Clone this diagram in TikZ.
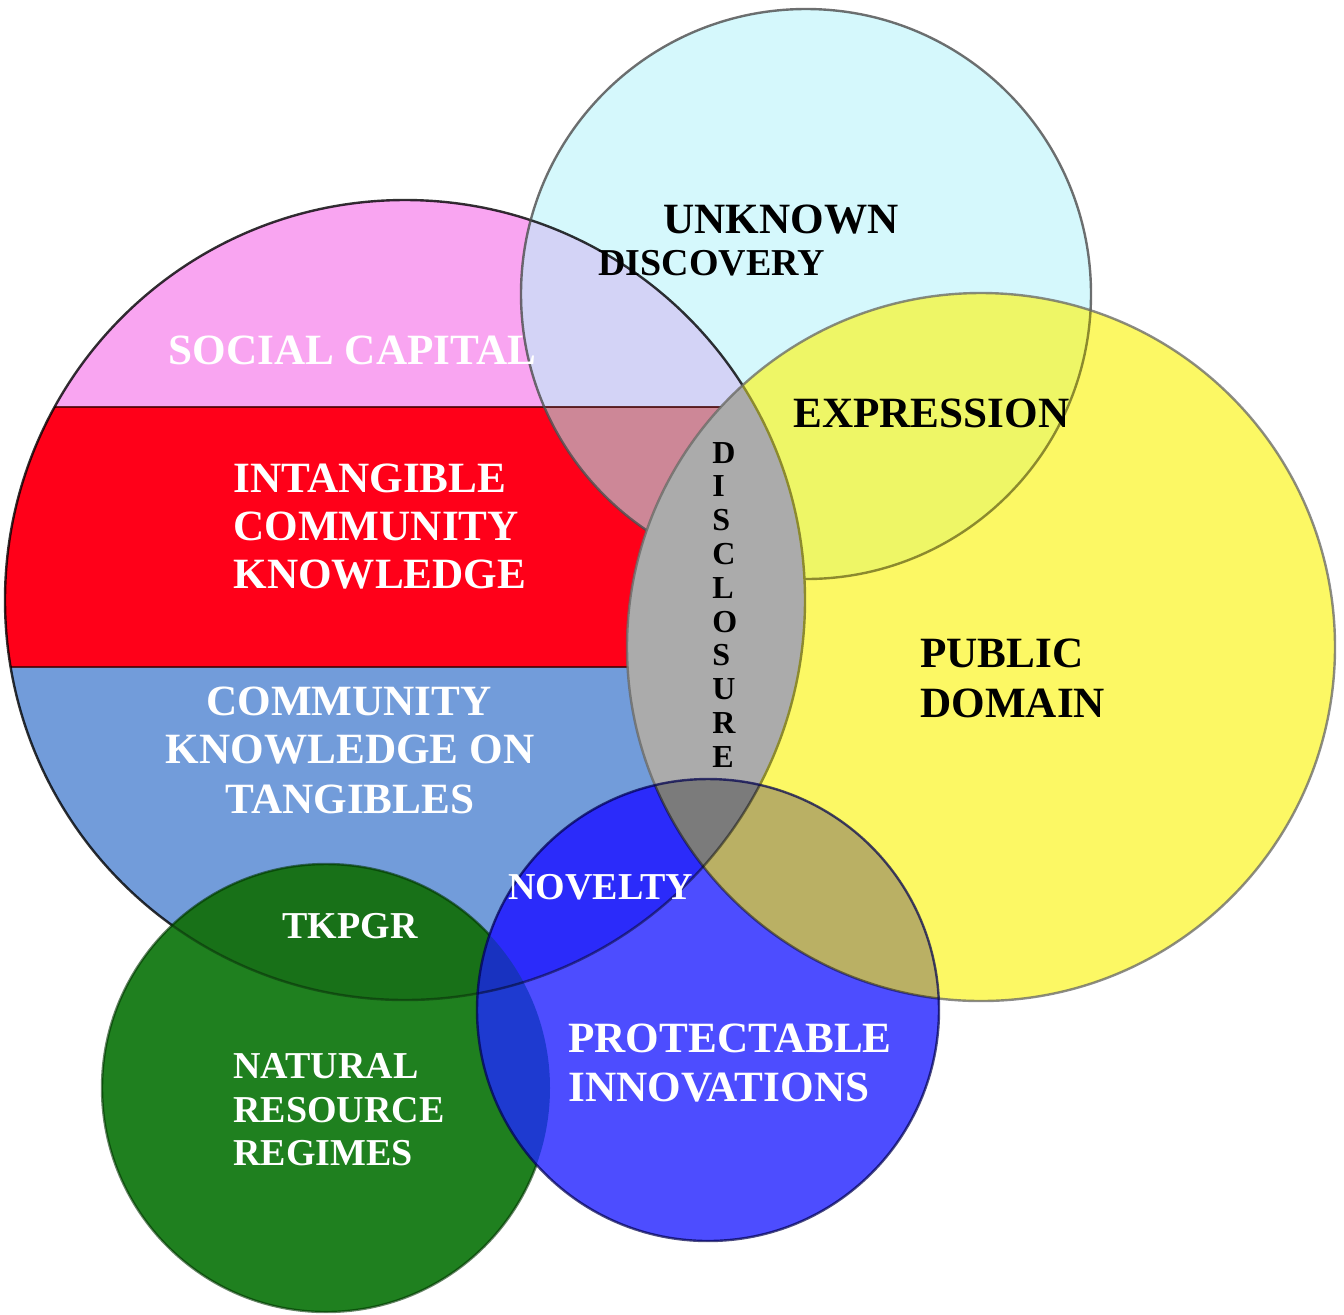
\documentclass[tikz,border=0pt]{standalone}
\usepackage{fontspec}
\setmainfont{Liberation Serif}
\definecolor{cpink}{HTML}{F9A5F1}
\definecolor{cred}{HTML}{FF0019}
\definecolor{csteel}{HTML}{729CDA}
\definecolor{clav}{HTML}{D3D3F6}
\definecolor{cmauve}{HTML}{CD8797}
\definecolor{ccyan}{HTML}{D5F8FC}
\definecolor{cyel}{HTML}{FCF864}
\definecolor{cyc}{HTML}{EEF666}
\definecolor{cgray}{HTML}{ABABAB}
\definecolor{cdgray}{HTML}{7B7B7B}
\definecolor{ckhaki}{HTML}{BAB064}
\definecolor{cblue}{HTML}{4D4DFF}
\definecolor{cbluedk}{HTML}{2B2BFA}
\definecolor{cgreen}{HTML}{1F801F}
\definecolor{cgreendk}{HTML}{187118}
\definecolor{cbg}{HTML}{1E3AD0}
\definecolor{cbgb}{HTML}{1832C0}
\definecolor{colive}{HTML}{8C8A2E}
\newcommand\lblbig{\fontsize{21.6}{25}\selectfont\bfseries}
\newcommand\lblmid{\fontsize{19}{22}\selectfont\bfseries}
\newcommand\lblsml{\fontsize{16}{18}\selectfont\bfseries}
\def\cirB{(405,600) circle[radius=400]}
\def\cirC{(806,294) circle[radius=285]}
\def\cirY{(981,647) circle[radius=354]}
\def\cirU{(708,1010) circle[radius=231]}
\def\cirG{(326,1088) circle[radius=224]}
\tikzset{
  lbl/.style={inner sep=0pt, anchor=base west},
  wt/.style={lbl, text=white},
  bk/.style={lbl, text=black},
  edge/.style={line width=1.2pt},
}
\begin{document}
\begin{tikzpicture}[x=0.5pt,y=-0.5pt]
\useasboundingbox (0,0) rectangle (1344,1314);
% big circle bands
\begin{scope}
  \clip \cirB;
  \fill[cpink] (0,0) rectangle (1344,407);
  \fill[cred] (0,407) rectangle (1344,667);
  \fill[csteel] (0,667) rectangle (1344,1314);
\end{scope}
% cyan circle
\fill[ccyan] \cirC;
\begin{scope}
  \clip \cirC; \clip \cirB;
  \fill[clav] (0,0) rectangle (1344,407);
  \fill[cmauve] (0,407) rectangle (1344,667);
\end{scope}
% band lines
\begin{scope}
  \clip \cirB;
  \draw[edge, draw=black!75!red, draw opacity=0.8] (0,407) -- (1344,407);
  \draw[edge, draw=black!75!red, draw opacity=0.8] (0,667) -- (1344,667);
\end{scope}
\draw[edge, draw=black, draw opacity=0.8] \cirB;
\draw[edge, draw=black!70, draw opacity=0.8] \cirC;
% yellow circle
\fill[cyel] \cirY;
\begin{scope}
  \clip \cirY;
  \fill[cyc] \cirC;
  \draw[edge, draw=colive] \cirC;
  \fill[cgray] \cirB;
  \draw[edge, draw=colive] \cirB;
\end{scope}
\draw[edge, draw=black!60, draw opacity=0.75] \cirY;
% green circle
\fill[cgreen] \cirG;
\begin{scope}
  \clip \cirG;
  \fill[cgreendk] \cirB;
  \draw[edge, draw=black, draw opacity=0.35] \cirB;
\end{scope}
\draw[edge, draw=black!80!green, draw opacity=0.6] \cirG;
% blue circle
\fill[cblue] \cirU;
\begin{scope}
  \clip \cirU;
  \fill[cbluedk] \cirB;
  \fill[ckhaki] \cirY;
  \begin{scope}
    \clip \cirY;
    \fill[cdgray] \cirB;
  \end{scope}
  \fill[cbg] \cirG;
  \begin{scope}
    \clip \cirG;
    \fill[cbgb] \cirB;
  \end{scope}
  \draw[edge, draw=black, draw opacity=0.45] \cirB;
  \draw[edge, draw=black, draw opacity=0.45] \cirY;
\end{scope}
\draw[edge, draw=black!70!blue, draw opacity=0.7] \cirU;
% labels
\node[bk, font=\lblbig] (unk) at (663,233) {UNKNOWN};
\node[bk, font=\lblmid] (dsc) at (598,275) {DISCOVERY};
\node[wt, font=\lblbig] (soc) at (168,364) {SOCIAL CAPITAL};
\node[bk, font=\lblbig] (expr) at (793,427) {EXPRESSION};
\node[wt, font=\lblbig] (ick1) at (233,492) {INTANGIBLE};
\node[wt, font=\lblbig] (ick2) at (233,540) {COMMUNITY};
\node[wt, font=\lblbig] (ick3) at (233,588) {KNOWLEDGE};
\node[bk, font=\lblbig] (pd1) at (920,667) {PUBLIC};
\node[bk, font=\lblbig] (pd2) at (920,717) {DOMAIN};
\node[wt, font=\lblbig, anchor=base] (ckt1) at (349,715) {COMMUNITY};
\node[wt, font=\lblbig, anchor=base] (ckt2) at (350,763) {KNOWLEDGE ON};
\node[wt, font=\lblbig, anchor=base] (ckt3) at (350,813) {TANGIBLES};
\node[wt, font=\lblmid] (nov) at (508,899) {NOVELTY};
\node[wt, font=\lblmid] (tk) at (282,938) {TKPGR};
\node[wt, font=\lblmid] (nr1) at (233,1078) {NATURAL};
\node[wt, font=\lblmid] (nr2) at (233,1122) {RESOURCE};
\node[wt, font=\lblmid] (nr3) at (233,1165) {REGIMES};
\node[wt, font=\lblbig] (pi1) at (568,1052) {PROTECTABLE};
\node[wt, font=\lblbig] (pi2) at (568,1101) {INNOVATIONS};
\foreach \ch [count=\i from 0] in {D,I,S,C,L,O,S,U,R,E}
  \node[bk, font=\lblsml] (dl\i) at (712,{463+33.8*\i}) {\ch};
\end{tikzpicture}
\end{document}
